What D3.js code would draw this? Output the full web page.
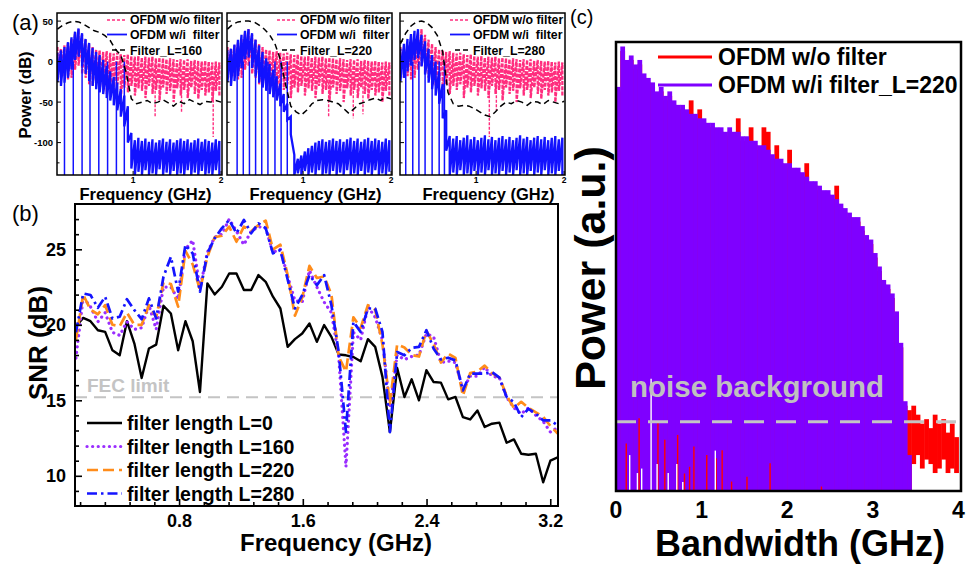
<!DOCTYPE html>
<html>
<head>
<meta charset="utf-8">
<script src="https://cdn.jsdelivr.net/npm/d3@7"></script>
<style>
  body { margin: 0; background: #fff; }
  svg { display: block; font-family: "Liberation Sans", Arial, Helvetica, sans-serif; }
</style>
</head>
<body>
<svg id="fig" width="971" height="564"></svg>
<script>
// ---------- panel (a): spectra, GHz / dB ----------
var freqA = [0.14,0.18,0.22,0.26,0.30,0.34,0.38,0.42,0.46,0.50,0.54,0.58,0.62,0.66,0.70,0.74,0.78,0.82,0.86,0.90,
  0.94,0.98,1.02,1.06,1.10,1.14,1.18,1.22,1.26,1.30,1.34,1.38,1.42,1.46,1.50,1.54,1.58,1.62,1.66,1.70,
  1.74,1.78,1.82,1.86,1.90,1.94,1.98];

// OFDM w/o filter (upper / lower edge of the dense trace)
var pinkHi = [18,16,20,23,28,36,40,33,27,22, 18,15,14,12,13,11,10,11,9,8, 9,7,6,7,5,6,5,6,4,5,
  4,3,4,3,2,3,2,3,1,2, 1,0,1,0,-1,0,-1];
var pinkLo = [-15,-20,-18,-22,-20,-10,-5,-15,-20,-28, -30,-25,-35,-28,-40,-30,-35,-28,-45,-32,
  -38,-30,-42,-33,-36,-45,-30,-40,-35,-48, -32,-40,-36,-50,-33,-42,-35,-45,-32,-40, -46,-35,-42,-38,-50,-36,-42];
var pinkDips160 = [[1.25,-68],[1.55,-62],[1.91,-93]];
var pinkDips220 = [[1.29,-69],[1.57,-70],[1.68,-65]];
var pinkDips280 = [[1.15,-93],[1.23,-60]];

// OFDM w/i filter
var blue160Hi = [11,14,18,24,30,37,41,35,28,23, 17,12,8,2,-5,-12,-19,-26,-34,-42, -55,-88,-97,-94,-98,-95,-99,-96,-100,-97,
  -95,-99,-96,-100,-97,-95,-98,-96,-100,-97, -95,-99,-96,-98,-100,-96,-98];
var blue160Lo = [-25,-30,-26,-20,-10,2,6,-6,-15,-24, -30,-34,-38,-40,-45,-48,-54,-60,-68,-80, -100,-132,-140,-136,-140,-134,-140,-138,-140,-133,
  -140,-137,-140,-135,-140,-138,-140,-134,-140,-137, -140,-135,-140,-138,-140,-134,-140];
var blue220Hi = [14,16,21,27,33,38,40,35,27,20, 12,4,-3,-10,-18,-27,-40,-52,-68,-115, -120,-116,-111,-107,-104,-100,-98,-96,-99,-97,
  -95,-98,-96,-99,-96,-94,-98,-95,-99,-96, -94,-98,-95,-97,-99,-95,-97];
var blue220Lo = [-25,-30,-24,-18,-8,3,5,-8,-18,-26, -32,-36,-40,-44,-48,-55,-62,-72,-90,-140, -138,-140,-135,-140,-137,-140,-134,-140,-138,-140,
  -135,-140,-137,-140,-134,-140,-138,-140,-135,-140, -137,-140,-134,-140,-138,-140,-136];
var blue280Hi = [16,22,28,34,38,40,33,25,16,8, 0,-12,-28,-60,-92,-95,-92,-97,-94,-91, -96,-93,-97,-94,-91,-96,-93,-97,-94,-92,
  -96,-93,-97,-94,-91,-95,-93,-97,-94,-92, -96,-93,-97,-94,-92,-96,-94];
var blue280Lo = [-24,-20,-12,-5,2,4,-6,-16,-26,-34, -42,-52,-70,-110,-140,-137,-140,-134,-140,-138, -140,-135,-140,-137,-140,-134,-140,-138,-140,-135,
  -140,-137,-140,-134,-140,-138,-140,-135,-140,-137, -140,-134,-140,-138,-140,-135,-140];
// deep nulls of the filtered trace reaching the bottom
var blue160Deep = [0.22,0.32,0.42,0.51,0.61,0.71,0.81,0.90];
var blue220Deep = [0.25,0.32,0.39,0.46,0.53,0.60,0.68,0.75,0.82];
var blue280Deep = [0.20,0.28,0.35,0.42,0.50,0.58,0.64];

// filter responses
var freqFilt = [0.14,0.20,0.26,0.32,0.38,0.44,0.50,0.56,0.62,0.68,0.74,0.80,0.86,0.92,0.98,1.04,
  1.10,1.16,1.22,1.28,1.34,1.40,1.46,1.52,1.58,1.64,1.70,1.76,1.82,1.88,1.94,2.00];
var filt160 = [40,45,48,50,49,46,42,38,36,32,26,15,8,-13,-46,-52,-50,-48,-52,-50,-47,-51,-55,-49,-52,-47,-50,-53,-49,-50,-48,-50];
var filt220 = [40,46,49,50,50,49,45,40,33,22,3,-28,-55,-62,-66,-60,-52,-48,-47,-48,-50,-52,-58,-64,-58,-52,-50,-47,-45,-48,-44,-46];
var filt280 = [22,35,44,49,50,48,42,32,12,-38,-52,-55,-54,-55,-58,-62,-66,-68,-62,-55,-50,-52,-48,-50,-54,-49,-50,-53,-48,-50,-52,-49];

var aTicksMajorY = [-100,-50,0,50];
var aTicksMinorY = [-125,-75,-25,25];
var aTicksX = [1,2];

// ---------- panel (b): SNR per subcarrier ----------
var freqB = [0.133,0.180,0.227,0.275,0.322,0.369,0.416,0.463,0.511,0.558,0.605,0.652,0.699,0.747,0.794,0.841,0.888,0.935,0.983,1.030,
  1.077,1.124,1.171,1.219,1.266,1.313,1.360,1.407,1.455,1.502,1.549,1.596,1.643,1.691,1.738,1.785,1.832,1.879,1.927,1.974,
  2.021,2.068,2.115,2.163,2.210,2.257,2.304,2.351,2.399,2.446,2.493,2.540,2.587,2.635,2.682,2.729,2.776,2.823,2.871,2.918,
  2.965,3.012,3.059,3.107,3.154,3.201,3.248];
var snrL0 = [19.9,20.46,20.24,19.64,19.53,18.31,17.98,20.24,18.76,16.48, 18.43,18.69,21.26,20.75,18.31,20.24,18.91,15.55,22.74,22.01,
  22.52,23.4,23.4,22.3,22.3,23.29,22.85,21.86,21.08,18.54, 19.05,19.42,20.09,18.87,19.98,19.2,18.03,17.98,17.87,17.58,
  19.05,18.54,16.55,12.9,17.14,15.22,16.39,15.0,16.99,16.21, 16.17,15.06,15.22,13.89,13.73,14.33,13.23,13.45,13.52,12.19,
  12.41,11.46,11.39,11.46,9.57,11.01,11.23];
var snrL160 = [17.8,21.8,21.2,20.2,20.8,19.5,19.3,20.2,19.7,19.8, 21.3,19.7,22.5,22.5,21.7,25.0,25.6,22.4,24.8,25.8,
  26.0,27.0,26.2,25.3,26.2,26.5,26.4,24.8,25.0,23.2, 21.6,21.5,23.6,22.5,21.5,20.8,17.9,10.6,19.5,19.0,
  21.2,20.5,19.0,14.5,18.0,17.7,17.9,18.0,19.4,19.2, 17.5,17.6,17.5,15.7,16.6,16.6,17.2,16.6,16.5,15.2,
  14.5,14.1,14.5,14.0,13.6,12.9,13.2];
var snrL220 = [19.0,22.0,21.0,20.7,21.3,20.0,19.9,20.8,20.0,20.0, 21.3,20.5,22.8,22.7,21.2,24.9,24.0,22.3,24.5,25.8,
  25.9,26.5,25.5,26.5,26.2,26.6,26.9,25.0,25.3,23.3, 20.6,21.8,23.9,23.1,23.2,22.0,17.9,16.9,20.5,19.8,
  21.3,21.0,18.7,14.8,18.7,18.5,18.0,17.9,19.6,18.7, 17.5,18.1,17.8,15.3,16.8,16.9,17.3,16.8,16.5,15.3,
  14.5,14.9,14.5,14.2,13.9,13.3,12.8];
var snrL280 = [19.5,22.08,21.97,21.13,21.86,20.42,20.53,21.7,20.97,20.37, 21.75,20.42,23.18,24.5,22.19,25.29,24.73,22.19,24.73,25.73,
  26.4,26.94,26.06,26.94,26.06,26.72,26.4,24.73,24.95,23.0, 21.08,21.97,23.29,22.63,23.29,21.3,18.2,12.9,20.2,19.53,
  21.08,21.08,19.53,12.9,18.2,17.98,18.47,18.54,19.64,18.42, 17.71,17.82,17.64,15.65,16.76,16.76,16.76,16.87,16.5,15.21,
  14.88,13.89,14.44,14.11,13.67,13.67,13.34];
var fecLimit = 15.2;
var bTicksX = [0.8,1.6,2.4,3.2];
var bMinorX = [0.16,0.32,0.48,0.64,0.96,1.12,1.28,1.44,1.76,1.92,2.08,2.24,2.56,2.72,2.88,3.04];
var bTicksY = [10,15,20,25];
var bMinorY = [9,11,12,13,14,16,17,18,19,21,22,23,24,26,27];
var bLegend = ["filter length L=0","filter length L=160","filter length L=220","filter length L=280"];

// ---------- panel (c): power spectrum, a.u. ----------
var freqC = [0.025,0.075,0.125,0.175,0.225,0.275,0.325,0.375,0.425,0.475,0.525,0.575,0.625,0.675,0.725,0.775,0.825,0.875,0.925,0.975,
  1.025,1.075,1.125,1.175,1.225,1.275,1.325,1.375,1.425,1.475,1.525,1.575,1.625,1.675,1.725,1.775,1.825,1.875,1.925,1.975,
  2.025,2.075,2.125,2.175,2.225,2.275,2.325,2.375,2.425,2.475,2.525,2.575,2.625,2.675,2.725,2.775,2.825,2.875,2.925,2.975,
  3.025,3.075,3.125,3.175,3.225,3.275,3.325,3.375,3.425,3.475,3.525,3.575,3.625,3.675,3.725,3.775,3.825,3.875,3.925,3.975];
var purpleTop = [90,99,96,97,95,96,93,92,91,89, 90,88,89,87,86,86,85,84,84,83,
  83,82,82,81,81,80,81,80,80,79, 79,78,78,77,77,76,75,74,74,73,
  73,72,72,71,70,69,69,68,67,67, 66,65,64,63,62,61,61,59,57,56,
  53,50,47,46,44,40,33,20,8,0, 0,0,0,0,0,0,0,0,0,0];
var redTop = [89,98,95,96,94,95,92,91,90,88, 89,87,88,86,85,85,84,87,83,85,
  82,81,81,80,80,79,80,79,83,78, 78,81,77,76,81,80,74,77,73,72,
  76,71,71,70,73,68,68,67,66,66, 65,68,63,62,61,60,60,58,56,55,
  52,49,46,45,43,39,32,19,18,19, 17,15,16,14,17,15,16,13,15,12];
var redBottom = [0,0,0,0,0,0,0,0,0,0, 0,0,0,0,0,0,0,0,0,0,
  0,0,0,0,0,0,0,0,0,0, 0,0,0,0,0,0,0,0,0,0,
  0,0,0,0,0,0,0,0,0,0, 0,0,0,0,0,0,0,0,0,0,
  0,0,0,0,0,0,0,0,0,6, 8,5,7,6,4,5,7,4,5,4];
var redGaps = [[0.12,10.6],[0.27,16.2],[0.49,15.4],[0.57,11.4],[0.72,12.5],[0.80,3.9],[0.86,5.4],[0.91,9.9],
  [1.06,8.0],[1.17,7.3],[1.24,9.1],[1.35,2.1],[1.53,3.2],[1.80,6.2],[2.40,1.0]];
var whiteGaps = [[0.16,8],[0.25,4],[0.30,5],[0.41,25],[0.48,6],[0.61,4],[0.71,6],[0.78,2],[1.16,9]];
var noiseLevel = 15.4;
var cTicksX = [0,1,2,3,4];

[[freqA,pinkHi,pinkLo,blue160Hi,blue160Lo,blue220Hi,blue220Lo,blue280Hi,blue280Lo],
 [freqFilt,filt160,filt220,filt280],
 [freqB,snrL0,snrL160,snrL220,snrL280],
 [freqC,purpleTop,redTop,redBottom]].forEach(function(set) {
  set.forEach(function(arr) {
    if (arr.length != set[0].length) throw new Error("length mismatch " + arr.length + " vs " + set[0].length);
  });
});

var svg = d3.select("#fig");
var defs = svg.append("defs");

function label(g, x, y, s, size, weight, anchor, color) {
  return g.append("text")
    .attr("x", x).attr("y", y)
    .attr("font-size", size)
    .attr("font-weight", weight || "bold")
    .attr("text-anchor", anchor || "start")
    .attr("fill", color || "#000")
    .text(s);
}

// dense trace: vertical stroke from upper to lower edge at each frequency
function zigzag(xs, hi, lo, x, y) {
  var p = "";
  xs.forEach(function(f, i) {
    p += (i ? "L" : "M") + x(f).toFixed(2) + "," + y(hi[i]).toFixed(2) +
      "L" + x(f).toFixed(2) + "," + y(lo[i]).toFixed(2);
  });
  return p;
}

// ================= (a) =================
var pink = "#ff2d7e", blueA = "#1212ff";
var subA = [
  {x0: 57, hi: blue160Hi, lo: blue160Lo, deep: blue160Deep, filt: filt160, dips: pinkDips160, name: "Filter_L=160"},
  {x0: 227, hi: blue220Hi, lo: blue220Lo, deep: blue220Deep, filt: filt220, dips: pinkDips220, name: "Filter_L=220"},
  {x0: 400, hi: blue280Hi, lo: blue280Lo, deep: blue280Deep, filt: filt280, dips: pinkDips280, name: "Filter_L=280"}
];
var aTop = 13, aBot = 175, aW = 165;

subA.forEach(function(s, k) {
  var x = d3.scaleLinear().domain([0.135, 2.01]).range([s.x0, s.x0 + aW]);
  var y = d3.scaleLinear().domain([-140, 60]).range([aBot, aTop]);
  var g = svg.append("g");

  defs.append("clipPath").attr("id", "clipA" + k)
    .append("rect").attr("x", s.x0).attr("y", aTop).attr("width", aW).attr("height", aBot - aTop);
  var plot = g.append("g").attr("clip-path", "url(#clipA" + k + ")");

  plot.append("path")
    .attr("d", zigzag(freqA, pinkHi, pinkLo, x, y))
    .attr("fill", "none").attr("stroke", pink).attr("stroke-width", 2.3)
    .attr("stroke-dasharray", "4,1.3");
  plot.selectAll(".dip").data(s.dips).enter().append("line")
    .attr("x1", function(d) { return x(d[0]); }).attr("x2", function(d) { return x(d[0]); })
    .attr("y1", y(-25)).attr("y2", function(d) { return y(d[1]); })
    .attr("stroke", pink).attr("stroke-width", 1.4).attr("stroke-dasharray", "3,1.5");

  plot.append("path")
    .attr("d", zigzag(freqA, s.hi, s.lo, x, y))
    .attr("fill", "none").attr("stroke", blueA).attr("stroke-width", 2.3);
  plot.selectAll(".deep").data(s.deep).enter().append("line")
    .attr("x1", function(d) { return x(d); }).attr("x2", function(d) { return x(d); })
    .attr("y1", y(0)).attr("y2", y(-140))
    .attr("stroke", blueA).attr("stroke-width", 1.5);

  plot.append("path")
    .attr("d", d3.line().x(function(d) { return x(d); }).y(function(d, i) { return y(s.filt[i]); })(freqFilt))
    .attr("fill", "none").attr("stroke", "#000").attr("stroke-width", 1.5)
    .attr("stroke-dasharray", "6,4");

  g.append("rect").attr("x", s.x0).attr("y", aTop).attr("width", aW).attr("height", aBot - aTop)
    .attr("fill", "none").attr("stroke", "#000").attr("stroke-width", 1.5);

  // inward ticks
  aTicksMajorY.forEach(function(v) {
    g.append("line").attr("x1", s.x0).attr("x2", s.x0 + 4).attr("y1", y(v)).attr("y2", y(v)).attr("stroke", "#000");
    if (k == 0) label(g, s.x0 - 4, y(v) + 3.5, String(v), 9.5, "bold", "end");
  });
  aTicksMinorY.forEach(function(v) {
    g.append("line").attr("x1", s.x0).attr("x2", s.x0 + 2.5).attr("y1", y(v)).attr("y2", y(v)).attr("stroke", "#000");
  });
  aTicksX.forEach(function(v) {
    g.append("line").attr("x1", x(v)).attr("x2", x(v)).attr("y1", aBot).attr("y2", aBot - 4).attr("stroke", "#000");
    label(g, x(v), aBot + 8, String(v), 8.5, "bold", "middle");
  });
  label(g, s.x0 + aW / 2 + 6, 199.5, "Frequency (GHz)", 16.5, "bold", "middle");

  // legend
  var lx = s.x0 + 50;
  g.append("line").attr("x1", lx).attr("x2", lx + 20).attr("y1", 20).attr("y2", 20)
    .attr("stroke", pink).attr("stroke-width", 1.6).attr("stroke-dasharray", "3,2");
  g.append("line").attr("x1", lx).attr("x2", lx + 20).attr("y1", 34.5).attr("y2", 34.5)
    .attr("stroke", blueA).attr("stroke-width", 1.8);
  g.append("line").attr("x1", lx + 5).attr("x2", lx + 20).attr("y1", 50).attr("y2", 50)
    .attr("stroke", "#000").attr("stroke-width", 1.6).attr("stroke-dasharray", "5,3");
  label(g, lx + 23, 24, "OFDM w/o filter", 12.3);
  label(g, lx + 23, 38.5, "OFDM w/i  filter", 12.3).attr("xml:space", "preserve");
  label(g, lx + 23, 54.5, s.name, 12.3);
});
label(svg, 12, 30, "(a)", 22, "normal");
label(svg, 0, 0, "Power (dB)", 16.5, "bold", "middle").attr("transform", "translate(31,95) rotate(-90)");

// ================= (b) =================
var bL = 75, bR = 558, bT = 204, bB = 506;
var xb = d3.scaleLinear().domain([0.127, 3.25]).range([bL, bR]);
var yb = d3.scaleLinear().domain([8, 28]).range([bB, bT]);
var gb = svg.append("g");

gb.append("line").attr("x1", bL).attr("x2", bR).attr("y1", yb(fecLimit)).attr("y2", yb(fecLimit))
  .attr("stroke", "#c4c4c4").attr("stroke-width", 2).attr("stroke-dasharray", "12,7");
label(gb, 87, 391.5, "FEC limit", 19, "bold", "start", "#c4c4c4");

var bStyles = [
  {data: snrL0, color: "#000", dash: null, w: 2.4},
  {data: snrL160, color: "#9a2dff", dash: "0.1,5.5", w: 3.2, cap: "round"},
  {data: snrL220, color: "#ff8c1a", dash: "11,5", w: 2.7},
  {data: snrL280, color: "#1414ff", dash: "10,4,2.5,4", w: 2.7}
];
defs.append("clipPath").attr("id", "clipB")
  .append("rect").attr("x", bL).attr("y", bT).attr("width", bR - bL).attr("height", bB - bT);
var plotB = gb.append("g").attr("clip-path", "url(#clipB)");
var lineB = d3.line().x(function(d) { return xb(d[0]); }).y(function(d) { return yb(d[1]); });
bStyles.forEach(function(st) {
  plotB.append("path")
    .attr("d", lineB(freqB.map(function(f, i) { return [f, st.data[i]]; })))
    .attr("fill", "none").attr("stroke", st.color).attr("stroke-width", st.w)
    .attr("stroke-dasharray", st.dash).attr("stroke-linecap", st.cap || "butt")
    .attr("stroke-linejoin", "round");
});

gb.append("rect").attr("x", bL).attr("y", bT).attr("width", bR - bL).attr("height", bB - bT)
  .attr("fill", "none").attr("stroke", "#000").attr("stroke-width", 2);

var axY = gb.append("g").attr("transform", "translate(" + bL + ",0)")
  .call(d3.axisLeft(yb).tickValues(bTicksY).tickSize(-7).tickPadding(9));
var axYm = gb.append("g").attr("transform", "translate(" + bL + ",0)")
  .call(d3.axisLeft(yb).tickValues(bMinorY).tickSize(-4).tickFormat(""));
var axX = gb.append("g").attr("transform", "translate(0," + bB + ")")
  .call(d3.axisBottom(xb).tickValues(bTicksX).tickSize(-7).tickPadding(8).tickFormat(d3.format(".1f")));
var axXm = gb.append("g").attr("transform", "translate(0," + bB + ")")
  .call(d3.axisBottom(xb).tickValues(bMinorX).tickSize(-4).tickFormat(""));
[axY, axYm, axX, axXm].forEach(function(a) {
  a.select(".domain").remove();
  a.selectAll(".tick line").attr("stroke", "#000").attr("stroke-width", 1.6);
  a.selectAll("text").attr("font-size", 18).attr("font-weight", "bold")
    .attr("font-family", "'Liberation Sans', Arial, sans-serif").attr("fill", "#000");
});

var legY = [423, 446.5, 470, 493.5];
bStyles.forEach(function(st, i) {
  gb.append("line").attr("x1", 87).attr("x2", 122).attr("y1", legY[i]).attr("y2", legY[i])
    .attr("stroke", st.color).attr("stroke-width", st.w)
    .attr("stroke-dasharray", st.dash).attr("stroke-linecap", st.cap || "butt");
  label(gb, 127, legY[i] + 7, bLegend[i], 19.5);
});
label(svg, 12, 221, "(b)", 22, "normal");
label(gb, 0, 0, "SNR (dB)", 26, "bold", "middle").attr("transform", "translate(47,343) rotate(-90)");
label(gb, 336, 551, "Frequency (GHz)", 24, "bold", "middle");

// ================= (c) =================
var cL = 616, cR = 961, cT = 42, cB = 491;
var xc = d3.scaleLinear().domain([0, 4.03]).range([cL, cR]);
var yc = d3.scaleLinear().domain([0, 100]).range([cB, cT]);
var gc = svg.append("g");
var binW = xc(0.05) - xc(0) + 0.5;

gc.selectAll(".red").data(freqC).enter().append("rect")
  .attr("x", function(d) { return xc(d - 0.025); })
  .attr("width", binW)
  .attr("y", function(d, i) { return yc(redTop[i]); })
  .attr("height", function(d, i) { return yc(redBottom[i]) - yc(redTop[i]); })
  .attr("fill", "#ff0000");
gc.selectAll(".pur").data(freqC).enter().append("rect")
  .attr("x", function(d) { return xc(d - 0.025); })
  .attr("width", binW)
  .attr("y", function(d, i) { return yc(purpleTop[i]); })
  .attr("height", function(d, i) { return yc(0) - yc(purpleTop[i]); })
  .attr("fill", "#7f00ff");
gc.selectAll(".rg").data(redGaps).enter().append("line")
  .attr("x1", function(d) { return xc(d[0]); }).attr("x2", function(d) { return xc(d[0]); })
  .attr("y1", yc(0)).attr("y2", function(d) { return yc(d[1]); })
  .attr("stroke", "#ff0000").attr("stroke-width", 1.4);
gc.selectAll(".wg").data(whiteGaps).enter().append("line")
  .attr("x1", function(d) { return xc(d[0]); }).attr("x2", function(d) { return xc(d[0]); })
  .attr("y1", yc(0)).attr("y2", function(d) { return yc(d[1]); })
  .attr("stroke", "#ffffff").attr("stroke-width", 1.4);

gc.append("line").attr("x1", cL).attr("x2", cR + 3).attr("y1", yc(noiseLevel)).attr("y2", yc(noiseLevel))
  .attr("stroke", "#c4c4c4").attr("stroke-width", 3).attr("stroke-dasharray", "20,12");
label(gc, 630, 397, "noise background", 29.5, "bold", "start", "#c0c0c0");

gc.append("rect").attr("x", cL).attr("y", cT).attr("width", cR - cL).attr("height", cB - cT)
  .attr("fill", "none").attr("stroke", "#000").attr("stroke-width", 2.5);
cTicksX.forEach(function(v) {
  label(gc, xc(v), 518, String(v), 23, "bold", "middle");
});
label(gc, 800, 556, "Bandwidth (GHz)", 36, "bold", "middle");
label(gc, 0, 0, "Power (a.u.)", 43, "bold", "middle").attr("transform", "translate(605,268) rotate(-90)");

gc.append("line").attr("x1", 658).attr("x2", 712).attr("y1", 57).attr("y2", 57)
  .attr("stroke", "#ff0000").attr("stroke-width", 3);
gc.append("line").attr("x1", 658).attr("x2", 712).attr("y1", 85).attr("y2", 85)
  .attr("stroke", "#7f00ff").attr("stroke-width", 3);
label(gc, 718, 65, "OFDM w/o filter", 23);
label(gc, 718, 93, "OFDM w/i filter_L=220", 23);
label(svg, 570, 24, "(c)", 20, "normal");
</script>
</body>
</html>
